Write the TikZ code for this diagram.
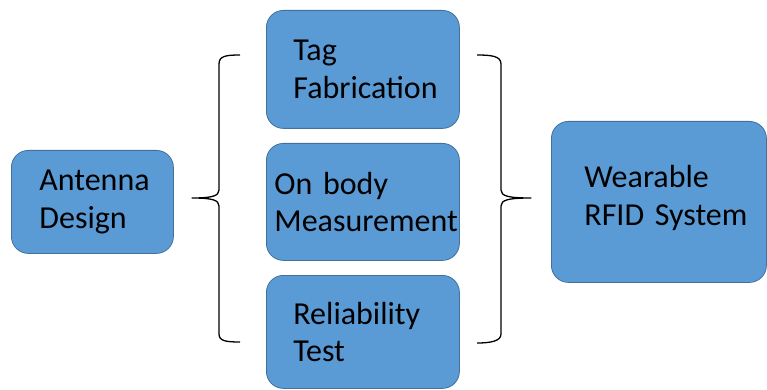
\documentclass[tikz,border=0pt]{standalone}
\usepackage{fontspec}
\setmainfont{Carlito}
\usepackage{tikz}
\usetikzlibrary{positioning}
\definecolor{boxblue}{RGB}{91,155,213}
\definecolor{boxedge}{RGB}{65,113,156}

\begin{document}
\begin{tikzpicture}[
  x=1pt, y=-1pt,
  every node/.style={font=\fontsize{32}{37.5}\selectfont},
  block/.style={draw=boxedge, line width=0.8pt, fill=boxblue, rounded corners=17pt,
                anchor=north west, align=left, inner ysep=0pt, text=black},
  brace/.style={draw=black, line width=1.3pt, line join=round}
]
\useasboundingbox (0,0) rectangle (767,390);
\node[block, minimum height=103, inner xsep=28, text width=106] (ant) at (11,150) {Antenna\\Design};
\node[block, minimum height=118, inner xsep=27, text width=139] (tag) at (266,10) {Tag\\Fabrication};
\node[block, minimum height=117, inner xsep=8,  text width=177] (body) at (266,143) {On body\\Measurement};
\node[block, minimum height=113, inner xsep=27, text width=139] (rel) at (266,275) {Reliability\\Test};
\node[block, minimum height=161, inner xsep=33, text width=149] (rfid) at (551,121) {Wearable\\\mbox{RFID System}\\[-24pt]\mbox{}};
\draw[brace] (240,55) .. controls (226,55) and (219,56) .. (219,64) -- (219,190)
  .. controls (219,196) and (212,198) .. (192,198)
  .. controls (212,198) and (219,200) .. (219,206) -- (219,334)
  .. controls (219,341) and (226,342) .. (240,342);
\draw[brace] (477,55) .. controls (491,55) and (501,56) .. (501,64) -- (501,190)
  .. controls (501,196) and (508,198) .. (531,198)
  .. controls (508,198) and (501,200) .. (501,206) -- (501,334)
  .. controls (501,341) and (491,343) .. (477,343);
\end{tikzpicture}
\end{document}
